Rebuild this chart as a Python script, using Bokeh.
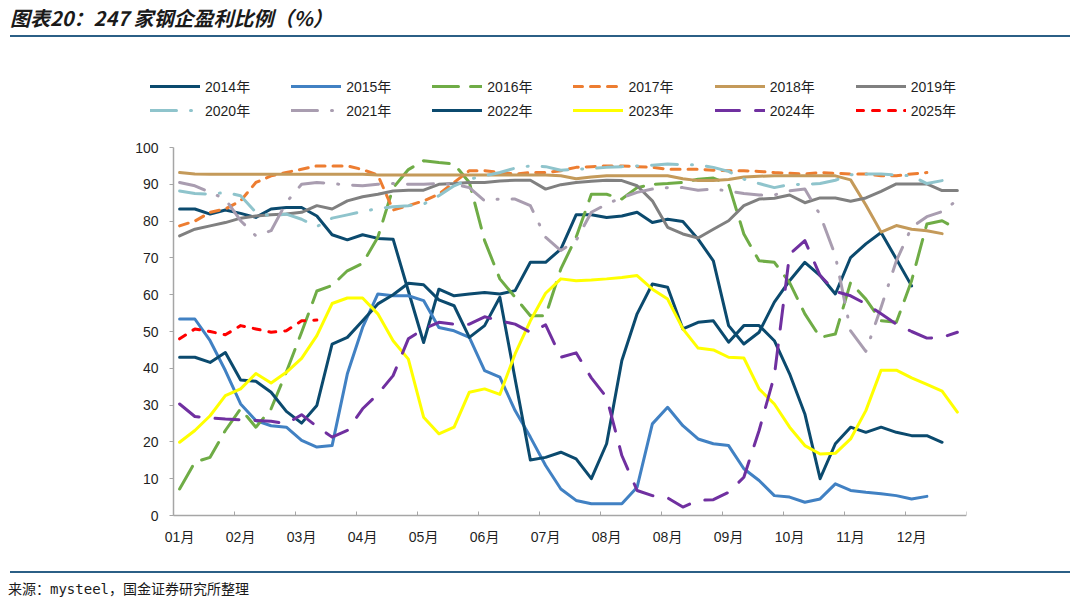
from bokeh.plotting import figure
from bokeh.models import Range1d, FixedTicker, Legend, LegendItem, Div
from bokeh.layouts import column
from bokeh.embed import file_html
from bokeh.resources import INLINE

# ---------------- data (weekly points) ----------------
month_labels = ["01月", "02月", "03月", "04月", "05月", "06月", "07月",
                "08月", "08月", "09月", "10月", "11月", "12月"]

w2014 = [83.3, 83.3, 81.9, 83.0, 82.1, 81.0, 83.3, 83.7, 83.7, 81.4,
         76.3, 74.9, 76.3, 75.3, 75.1, 61.0, 47.0, 61.5, 59.7, 60.2,
         60.6, 60.2, 61.1, 68.8, 68.8, 72.4, 81.7, 81.7, 81.0, 81.4,
         82.4, 79.6, 80.5, 79.9, 75.1, 69.2, 51.6, 46.6, 49.8, 58.0,
         63.8, 68.8, 65.2, 60.2, 70.1, 73.8, 76.9, 69.7, 62.4]
w2015 = [53.4, 53.4, 47.5, 39.4, 30.3, 25.8, 24.4, 24.0, 20.4, 18.6,
         19.0, 38.5, 51.1, 60.2, 59.7, 59.7, 58.4, 51.1, 50.2, 48.4,
         39.4, 37.6, 28.5, 21.3, 13.6, 7.2, 4.1, 3.2, 3.2, 3.2,
         7.7, 24.9, 29.4, 24.4, 20.8, 19.5, 19.0, 12.7, 9.5, 5.4,
         5.0, 3.6, 4.5, 8.6, 6.8, 6.3, 5.9, 5.4, 4.5, 5.2]
w2016 = [7.2, 14.5, 15.8, 23.1, 29.0, 24.0, 29.0, 39.0, 49.8, 61.0,
         62.5, 66.5, 68.5, 75.6, 89.0, 94.0, 96.4, 95.9, 95.5, 90.5,
         74.7, 64.3, 59.3, 54.3, 54.3, 67.0, 75.6, 87.3, 87.3, 86.0,
         89.1, 90.0, 90.2, 90.5, 91.4, 91.7, 90.0, 76.5, 69.2, 68.8,
         63.3, 54.8, 48.4, 49.3, 63.3, 58.8, 52.9, 52.5, 63.8, 79.2,
         80.1, 77.8]
w2017 = [78.7, 80.0, 82.4, 83.3, 85.5, 90.5, 92.3, 93.2, 94.1, 95.0,
         95.0, 95.0, 94.0, 92.5, 83.0, 84.2, 85.5, 87.3, 90.5, 93.7,
         93.7, 93.2, 92.8, 93.2, 93.2, 93.7, 94.6, 94.8, 95.0, 95.0,
         94.8, 94.6, 94.1, 94.1, 94.1, 93.8, 93.7, 93.7, 93.5, 93.2,
         93.0, 92.8, 93.2, 93.0, 92.8, 92.8, 92.3, 92.3, 92.8, 93.2]
w2018 = [93.2, 92.8, 92.7, 92.7, 92.7, 92.7, 92.7, 92.7, 92.7, 92.7,
         92.7, 92.7, 92.7, 92.5, 92.5, 92.5, 92.5, 92.5, 92.5, 92.5,
         92.5, 92.5, 92.5, 92.5, 92.5, 92.3, 91.5, 92.0, 92.3, 92.3,
         92.3, 92.3, 92.3, 91.5, 91.0, 91.0, 91.3, 92.0, 92.2, 92.3,
         92.3, 92.3, 92.3, 92.3, 91.2, 84.4, 77.0, 78.8, 77.8, 77.4,
         76.6]
w2019 = [76.0, 77.8, 78.7, 79.6, 80.8, 81.4, 81.7, 81.9, 82.4, 84.2,
         83.3, 85.5, 86.6, 87.3, 88.2, 88.4, 88.4, 90.0, 90.2, 90.5,
         90.5, 90.9, 91.1, 91.1, 88.7, 89.9, 90.5, 90.8, 91.1, 91.0,
         89.6, 85.5, 78.3, 76.5, 75.4, 77.8, 80.1, 84.2, 86.0, 86.2,
         87.1, 85.0, 86.3, 86.3, 85.4, 86.3, 88.1, 90.1, 90.1, 90.1,
         88.3, 88.3]
w2020 = [88.2, 87.5, 87.3, 87.8, 86.9, 82.4, 81.4, 81.9, 80.5, 78.5,
         80.8, 81.7, 82.6, 83.4, 83.9, 84.2, 84.6, 86.9, 89.6, 91.4,
         92.3, 93.2, 94.4, 95.0, 94.8, 93.8, 94.1, 94.3, 94.6, 94.8,
         95.0, 95.2, 95.5, 95.3, 95.3, 94.6, 93.5, 91.4, 90.2, 89.1,
         89.9, 90.0, 90.2, 91.1, 92.6, 92.8, 92.8, 92.5, 92.3, 90.2,
         91.0]
w2021 = [90.5, 89.6, 87.8, 86.0, 80.1, 76.0, 77.4, 85.1, 90.0, 90.5,
         90.2, 89.8, 89.6, 90.0, 90.2, 90.0, 90.0, 90.2, 90.0, 89.1,
         85.5, 86.0, 86.0, 84.2, 75.6, 72.0, 74.7, 82.4, 84.6, 86.4,
         87.8, 88.7, 89.1, 89.1, 88.4, 88.7, 88.2, 87.5, 87.1, 87.1,
         88.2, 88.7, 81.7, 70.6, 50.2, 44.6, 56.6, 69.2, 78.3, 81.2,
         82.6, 85.7]
w2022 = [43.0, 43.0, 41.6, 44.3, 36.8, 36.5, 33.5, 28.3, 25.1, 29.9,
         46.6, 48.4, 52.9, 57.5, 60.0, 63.1, 62.7, 58.6, 57.0, 48.4,
         51.6, 59.3, 37.1, 15.1, 15.8, 17.2, 15.4, 10.0, 19.5, 42.1,
         54.8, 62.9, 62.0, 50.7, 52.5, 52.9, 47.1, 51.6, 51.6, 47.5,
         38.5, 27.6, 10.0, 19.5, 24.0, 22.6, 24.0, 22.6, 21.7, 21.7,
         19.9]
w2023 = [19.9, 23.1, 27.1, 32.6, 34.4, 38.6, 36.0, 38.9, 42.7, 48.9,
         57.6, 59.1, 59.1, 54.8, 47.5, 42.5, 26.7, 22.2, 24.0, 33.5,
         34.4, 32.9, 43.9, 52.9, 60.4, 64.3, 63.8, 64.0, 64.3, 64.7,
         65.2, 61.5, 58.8, 50.7, 45.5, 45.0, 43.0, 42.8, 34.4, 30.3,
         24.0, 19.0, 16.7, 16.9, 20.8, 28.5, 39.5, 39.5, 37.4, 35.6,
         33.8, 28.1]
w2024 = [30.3, 26.9, 26.5, 26.2, 26.0, 25.8, 25.6, 24.9, 27.4, 24.2,
         21.3, 23.1, 29.0, 33.0, 38.0, 48.0, 50.7, 52.5, 52.0, 52.0,
         54.0, 52.9, 52.0, 49.8, 51.8, 43.0, 44.2, 37.4, 32.1, 16.3,
         6.8, 5.4, 4.8, 2.3, 4.1, 4.3, 6.3, 10.4, 23.1, 38.0,
         71.0, 74.7, 65.2, 60.9, 59.7, 57.5, 54.8, 52.0, 50.0, 48.2,
         48.4, 49.8]
w2025 = [48.0, 50.7, 50.0, 49.1, 51.6, 50.7, 49.8, 50.2, 52.9, 53.1]

NAVY = "#0B4A6E"
series = [
    ("2014年", w2014, NAVY, "solid"),
    ("2015年", w2015, "#4181C3", "solid"),
    ("2016年", w2016, "#6FAC46", "26 12"),
    ("2017年", w2017, "#ED7D31", "9 8"),
    ("2018年", w2018, "#C49A5A", "solid"),
    ("2019年", w2019, "#808080", "solid"),
    ("2020年", w2020, "#8FC4CC", "26 14 1 14"),
    ("2021年", w2021, "#A99DB0", "26 14 1 14"),
    ("2022年", w2022, NAVY, "solid"),
    ("2023年", w2023, "#FFFF00", "solid"),
    ("2024年", w2024, "#7030A0", "24 16"),
    ("2025年", w2025, "#FF0000", "7 9"),
]

TITLE = "图表20：247 家钢企盈利比例（%）"
SOURCE = "来源：mysteel，国金证券研究所整理"

LATIN = "'Liberation Sans', 'Noto Sans CJK SC', sans-serif"
TXT = "#1F1F1F"
AXIS_GRAY = "#A6A6A6"
RULE = "#2B5F86"
W = 1070

# ---------------- header (title + rule) ----------------
header_html = (
    '<div style="position:relative;width:1070px;height:46px;">'
    '<div style="position:absolute;left:10px;top:6px;white-space:nowrap;'
    "font:italic bold 20px 'Noto Sans CJK SC';line-height:24px;color:#1A1A1A;\">"
    + TITLE + '</div>'
    '<div style="position:absolute;left:10px;top:35px;width:1060px;height:2px;'
    'background:' + RULE + ';"></div></div>')
header = Div(width=W, height=46, margin=0, text=header_html)

# ---------------- main plot ----------------
# The frame spans the legend and tick-label areas too; the axes are placed
# with fixed_location and limited with bounds.
X0, X1 = -0.4, 51.6
PX_X, PX_Y = 15.25, 3.68          # pixels per week / per percent
p = figure(width=W, height=512, output_backend="svg", toolbar_location=None,
           title=None,
           x_range=Range1d(X0 - 45 / PX_X, X1),
           y_range=Range1d(-37 / PX_Y, 100 + 71 / PX_Y),
           min_border_left=128, min_border_right=104,
           min_border_top=30, min_border_bottom=6)
p.outline_line_color = None
p.grid.visible = False

renderers = []
for name, vals, color, dash in series:
    r = p.line(x=list(range(len(vals))), y=vals, line_color=color,
               line_width=3, line_dash=dash, line_cap="round",
               line_join="round")
    renderers.append((name, r))

# y axis
p.yaxis.fixed_location = X0
p.yaxis.bounds = (0, 100)
p.yaxis.ticker = FixedTicker(ticks=list(range(0, 101, 10)))
p.yaxis.axis_line_color = AXIS_GRAY
p.yaxis.axis_line_width = 1.5
p.yaxis.major_tick_line_color = AXIS_GRAY
p.yaxis.major_tick_out = 4
p.yaxis.major_tick_in = 0
p.yaxis.minor_tick_line_color = None
p.yaxis.major_label_standoff = 11
p.yaxis.major_label_text_font = LATIN
p.yaxis.major_label_text_font_size = "14px"
p.yaxis.major_label_text_color = TXT

# x axis
label_pos = [4 * k for k in range(len(month_labels))]
p.xaxis.fixed_location = 0
p.xaxis.bounds = (X0, X1)
p.xaxis.ticker = FixedTicker(ticks=label_pos,
                             minor_ticks=[4 * k + X0 for k in range(14)])
p.xaxis.major_label_overrides = {pos: lab for pos, lab in zip(label_pos, month_labels)}
p.xaxis.axis_line_color = AXIS_GRAY
p.xaxis.axis_line_width = 1.5
p.xaxis.major_tick_line_color = None
p.xaxis.minor_tick_line_color = AXIS_GRAY
p.xaxis.minor_tick_in = 4
p.xaxis.minor_tick_out = 0
p.xaxis.major_label_standoff = 7
p.xaxis.major_label_text_font = LATIN
p.xaxis.major_label_text_font_size = "14px"
p.xaxis.major_label_text_color = TXT

# legends: two rows of six, inside the (enlarged) frame
items = [LegendItem(label=n, renderers=[r]) for n, r in renderers]
for row, bottom in ((items[:6], 456), (items[6:], 432)):
    lg = Legend(items=row, orientation="horizontal", location=(22, bottom))
    lg.glyph_width = 50
    lg.glyph_height = 16
    lg.label_height = 16
    lg.label_standoff = 5
    lg.spacing = 41
    lg.padding = 0
    lg.margin = 0
    lg.border_line_alpha = 0
    lg.background_fill_alpha = 0
    lg.label_text_font = LATIN
    lg.label_text_font_size = "14px"
    lg.label_text_color = TXT
    p.add_layout(lg, "center")

# ---------------- footer (rule + source) ----------------
footer_html = (
    '<div style="position:relative;width:1070px;height:40px;">'
    '<div style="position:absolute;left:10px;top:13px;width:1060px;height:2px;'
    'background:' + RULE + ';"></div>'
    '<div style="position:absolute;left:8px;top:24px;white-space:nowrap;'
    "font:14px 'DejaVu Sans Mono', 'Noto Sans CJK SC';line-height:14px;color:#1A1A1A;\">"
    + SOURCE + '</div></div>')
footer = Div(width=W, height=40, margin=0, text=footer_html)

layout = column(header, p, footer, spacing=0)
open("out.html", "w").write(file_html(layout, INLINE))
